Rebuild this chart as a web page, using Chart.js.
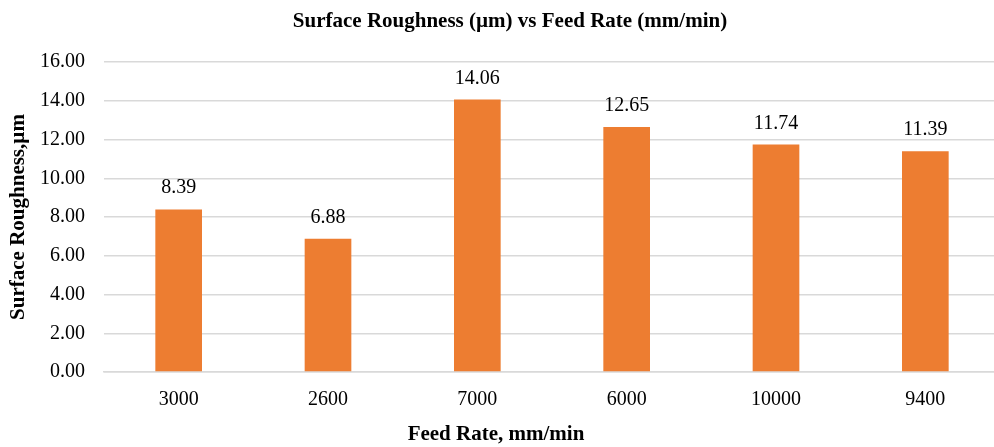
<!DOCTYPE html>
<html>
<head>
<meta charset="utf-8">
<script src="https://cdn.jsdelivr.net/npm/chart.js@4/dist/chart.umd.min.js"></script>
<style>
  html, body { margin: 0; padding: 0; background: #fff; overflow: hidden; }
  #wrap { width: 1004px; height: 447px; }
</style>
</head>
<body>
<div id="wrap"><canvas id="roughness-chart" width="1004" height="447"></canvas></div>
<script>
const feedRates = ['3000', '2600', '7000', '6000', '10000', '9400'];
const roughness = [8.39, 6.88, 14.06, 12.65, 11.74, 11.39];
const yTicks = [0, 2, 4, 6, 8, 10, 12, 14, 16];

const serif = '"Liberation Serif", "Times New Roman", serif';

// values above bars + chart/x titles placed like the original
const labelsPlugin = {
    id: 'labelsPlugin',
    afterDatasetsDraw(chart) {
        const ctx = chart.ctx;
        const meta = chart.getDatasetMeta(0);
        ctx.save();
        ctx.fillStyle = '#000';
        ctx.font = '20px ' + serif;
        ctx.textAlign = 'center';
        ctx.textBaseline = 'alphabetic';
        meta.data.forEach(function(bar, i) {
            ctx.fillText(roughness[i].toFixed(2), bar.x, bar.y - 16);
        });
        ctx.font = 'bold 21px ' + serif;
        ctx.textBaseline = 'middle';
        ctx.fillText('Surface Roughness (µm) vs Feed Rate (mm/min)', 510, 22);
        ctx.fillText('Feed Rate, mm/min', 496, 435);
        ctx.restore();
    }
};

const ctx = document.getElementById('roughness-chart').getContext('2d');
new Chart(ctx, {
    type: 'bar',
    data: {
        labels: feedRates,
        datasets: [{
            label: 'Surface Roughness',
            data: roughness,
            backgroundColor: '#ED7D31',
            categoryPercentage: 1,
            barPercentage: 0.3125
        }]
    },
    options: {
        responsive: false,
        animation: false,
        layout: { padding: { top: 62, right: 4, left: 0, bottom: 0 } },
        plugins: {
            legend: { display: false },
            tooltip: { enabled: false }
        },
        scales: {
            x: {
                grid: { display: false, drawTicks: false },
                border: { color: '#d9d9d9', width: 1.5 },
                ticks: { color: '#000', font: { family: serif, size: 20 }, padding: 16 },
                afterFit: function(scale) { scale.height = 75; }
            },
            y: {
                min: 0,
                max: 16,
                afterBuildTicks: function(scale) {
                    scale.ticks = yTicks.map(function(v) { return { value: v }; });
                },
                grid: { color: '#d9d9d9', lineWidth: 1.5, drawTicks: false },
                border: { display: false },
                ticks: {
                    color: '#000',
                    font: { family: serif, size: 20 },
                    padding: 19,
                    callback: function(v) { return Number(v).toFixed(2); }
                },
                title: {
                    display: true,
                    text: 'Surface Roughness,µm',
                    color: '#000',
                    font: { family: serif, size: 21, weight: 'bold' },
                    padding: { top: 6, bottom: 0 }
                },
                afterFit: function(scale) { scale.width = 104; }
            }
        }
    },
    plugins: [labelsPlugin]
});
</script>
</body>
</html>
